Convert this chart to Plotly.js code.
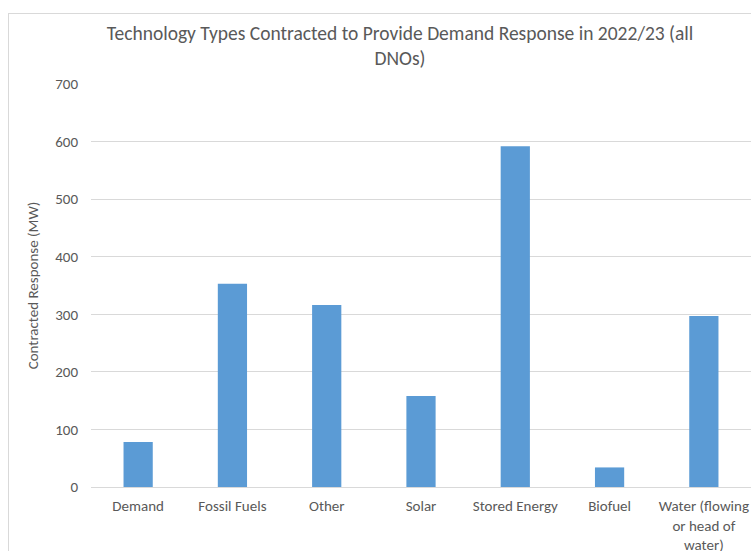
<!DOCTYPE html>
<html>
<head>
<meta charset="utf-8">
<script src="https://cdn.plot.ly/plotly-3.0.1.min.js"></script>
<style>
  html, body { margin: 0; padding: 0; background: #fff; overflow: hidden; }
  #chart { position: absolute; left: 8px; top: 13px; width: 742px; height: 537px;
           border-left: 1px solid #d9d9d9; border-top: 1px solid #d9d9d9; }
</style>
</head>
<body>
<div id="chart"></div>
<script>
const categories = ["Demand", "Fossil Fuels", "Other", "Solar", "Stored Energy", "Biofuel", "Water (flowing<br>or head of<br>water)"];
const contractedMW = [78, 353, 316, 158, 592, 34, 297];
const yTicks = [0, 100, 200, 300, 400, 500, 600, 700];

const fontFam = "Carlito, Lato, 'Open Sans', sans-serif";
const textCol = "#595959";

const trace = {
  type: "bar",
  x: categories,
  y: contractedMW,
  marker: { color: "#5B9BD5" },
  hoverinfo: "x+y"
};

const layout = {
  width: 742,
  height: 537,
  margin: { l: 82, r: 0, t: 70, b: 64 },
  paper_bgcolor: "#ffffff",
  plot_bgcolor: "#ffffff",
  bargap: 0.69,
  showlegend: false,
  font: { family: fontFam, color: textCol, size: 15 },
  title: {
    text: "Technology Types Contracted to Provide Demand Response in 2022/23 (all<br>DNOs)",
    font: { family: fontFam, size: 19.5, color: textCol },
    x: 391 / 742,
    xanchor: "center",
    xref: "container",
    y: 1 - 26 / 537,
    yanchor: "top",
    yref: "container"
  },
  xaxis: {
    type: "category",
    range: [-0.5, 6.5],
    showgrid: false,
    showline: true,
    linecolor: "#d9d9d9",
    linewidth: 1,
    ticks: "",
    tickfont: { family: fontFam, size: 15, color: textCol },
    ticklabelstandoff: 5,
    fixedrange: true
  },
  yaxis: {
    range: [0, 700],
    tickvals: yTicks,
    ticktext: yTicks.map(String),
    showgrid: true,
    gridcolor: "#d9d9d9",
    gridwidth: 1,
    zeroline: false,
    showline: false,
    ticks: "",
    tickfont: { family: fontFam, size: 15, color: textCol },
    ticklabelstandoff: 12,
    title: {
      text: "Contracted Response (MW)",
      font: { family: fontFam, size: 15, color: textCol },
      standoff: 12
    },
    fixedrange: true
  }
};

Plotly.newPlot("chart", [trace], layout, { displayModeBar: false, staticPlot: true });
</script>
</body>
</html>
